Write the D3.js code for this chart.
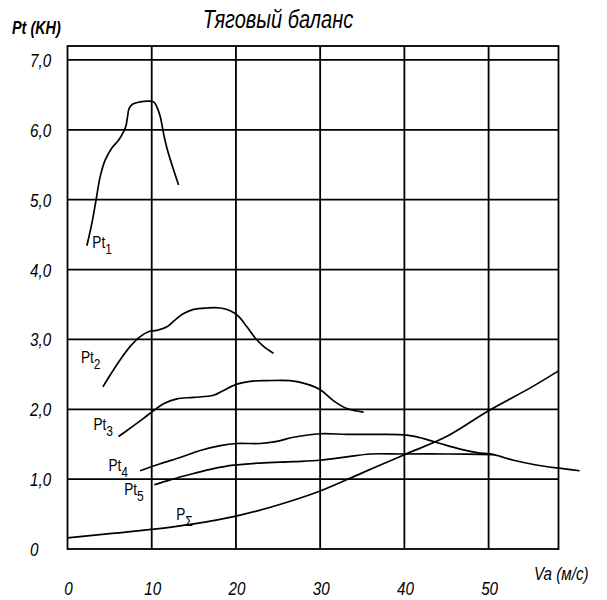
<!DOCTYPE html>
<html>
<head>
<meta charset="utf-8">
<script src="https://cdn.jsdelivr.net/npm/d3@7"></script>
<style>
  html, body { margin: 0; padding: 0; background: #fff; }
  svg { display: block; }
  .lbl { font-family: "Liberation Sans", Arimo, sans-serif; font-style: italic; fill: #000; }
  .curve-lbl { font-family: "Liberation Sans", Arimo, sans-serif; fill: #000; }
</style>
</head>
<body>
<script>
// Traction balance: tractive force per gear vs. vehicle speed, plus total resistance
const title = "Тяговый баланс";
const yTitle = "Pt (KH)";
const xTitle = "Va (м/с)";

const xTicks = [0, 10, 20, 30, 40, 50];
const xTickLabels = ["0", "10", "20", "30", "40", "50"];
const yTicks = [0, 1, 2, 3, 4, 5, 6, 7];
const yTickLabels = ["0", "1,0", "2,0", "3,0", "4,0", "5,0", "6,0", "7,0"];

// [speed, force] pairs for each curve
const pt1 = [[2.30,4.34],[2.89,4.66],[3.41,5.01],[3.88,5.33],[4.48,5.57],[5.27,5.74],[6.06,5.85],
  [6.65,5.97],[6.93,6.05],[7.13,6.19],[7.33,6.31],[7.76,6.37],[8.63,6.40],[9.62,6.41],[10.22,6.40],
  [10.61,6.33],[11.01,6.19],[11.40,5.95],[11.80,5.74],[12.40,5.50],[13.19,5.21]];
const pt2 = [[4.20,2.32],[5.07,2.49],[6.26,2.71],[7.45,2.90],[8.63,3.04],[9.62,3.11],[10.61,3.13],
  [11.80,3.18],[12.79,3.28],[13.78,3.37],[14.97,3.43],[16.55,3.45],[18.14,3.45],[19.32,3.41],
  [20.31,3.33],[21.30,3.18],[22.29,3.02],[23.28,2.90],[24.47,2.80]];
const pt3 = [[6.06,1.61],[7.45,1.73],[9.03,1.87],[10.22,1.98],[11.40,2.08],[12.99,2.15],[14.97,2.17],
  [17.34,2.20],[18.53,2.27],[20.11,2.36],[21.70,2.40],[23.68,2.41],[26.45,2.41],[28.43,2.36],
  [30.01,2.28],[31.60,2.12],[33.18,2.01],[35.16,1.96]];
const pt4 = [[8.63,1.12],[11.01,1.22],[13.38,1.31],[15.76,1.41],[18.14,1.48],[20.11,1.51],[22.89,1.51],
  [24.87,1.54],[26.84,1.60],[30.01,1.65],[33.18,1.64],[36.74,1.64],[40.30,1.63],[42.28,1.58],
  [44.26,1.51],[46.64,1.43],[48.62,1.38],[50.60,1.35],[52.97,1.27],[55.35,1.21],[58.12,1.16],[60.81,1.12]];
const pt5 = [[10.30,0.92],[12.20,0.99],[14.97,1.08],[17.34,1.15],[19.72,1.20],[22.89,1.23],[26.84,1.25],
  [30.01,1.27],[33.18,1.32],[35.95,1.36],[39.51,1.36],[45.06,1.36],[50.60,1.35]];
const pSum = [[0,0.16],[5,0.22],[10,0.28],[15,0.36],[20,0.47],[25,0.63],[30,0.83],[35,1.09],
  [40,1.35],[45,1.61],[50,1.98],[55,2.31],[58.3,2.55]];

// curve labels: [main text, subscript, speed, force]
const curveLabels = [
  ["Pt", "1", 2.95, 4.31],
  ["Pt", "2", 1.59, 2.66],
  ["Pt", "3", 3.09, 1.71],
  ["Pt", "4", 4.87, 1.11],
  ["Pt", "5", 6.73, 0.77],
  ["P", "Σ", 12.9, 0.42]
];

const W = 607, H = 600;
const svg = d3.select("body").append("svg").attr("width", W).attr("height", H);

const x = d3.scaleLinear().domain([0, 58.3]).range([67.5, 558.5]);
const y = d3.scaleLinear().domain([0, 7.2]).range([549, 46]);

// narrow drafting-style lettering: regular font squeezed horizontally
const NARROW = 0.8;
function narrowText(sel, px, py) {
  return sel.attr("transform", (d, i) => `translate(${px(d, i)},${py(d, i)}) scale(${NARROW},1)`);
}

// grid
const grid = svg.append("g").attr("stroke", "#000").attr("stroke-width", 1.8).attr("fill", "none");
grid.selectAll(".vg").data(xTicks.slice(1)).join("line")
  .attr("x1", d => x(d)).attr("x2", d => x(d)).attr("y1", y(0)).attr("y2", y(7.2));
grid.selectAll(".hg").data(yTicks.slice(1)).join("line")
  .attr("y1", d => y(d)).attr("y2", d => y(d)).attr("x1", x(0)).attr("x2", x(58.3));
grid.append("rect")
  .attr("x", x(0)).attr("y", y(7.2))
  .attr("width", x(58.3) - x(0)).attr("height", y(0) - y(7.2));

// tick labels
narrowText(svg.selectAll(".yt").data(yTicks).join("text")
  .attr("class", "lbl").attr("font-size", 19)
  .text((d, i) => yTickLabels[i]), () => 30, d => y(d) + 7);
narrowText(svg.selectAll(".xt").data(xTicks).join("text")
  .attr("class", "lbl").attr("font-size", 19).attr("text-anchor", "middle")
  .text((d, i) => xTickLabels[i]), d => x(d) + 1, () => 595);

// titles
narrowText(svg.append("text").attr("class", "lbl").attr("font-size", 25).attr("text-anchor", "middle")
  .text(title), () => 278, () => 28);
narrowText(svg.append("text").attr("class", "lbl").attr("font-size", 18).attr("font-weight", "bold")
  .text(yTitle), () => 12, () => 34);
narrowText(svg.append("text").attr("class", "lbl").attr("font-size", 19)
  .text(xTitle), () => 534, () => 580);

// curves
const line = d3.line().x(d => x(d[0])).y(d => y(d[1])).curve(d3.curveCatmullRom.alpha(0.5));
svg.append("g").attr("fill", "none").attr("stroke", "#000").attr("stroke-width", 1.7)
  .selectAll("path").data([pt1, pt2, pt3, pt4, pt5, pSum]).join("path")
  .attr("d", line);

// curve labels
const cl = narrowText(svg.append("g").selectAll("text").data(curveLabels).join("text")
  .attr("class", "curve-lbl").attr("font-size", 17), d => x(d[2]), d => y(d[3]));
cl.append("tspan").text(d => d[0]);
cl.append("tspan").attr("font-size", 15).attr("dy", 6).text(d => d[1]);
</script>
</body>
</html>
